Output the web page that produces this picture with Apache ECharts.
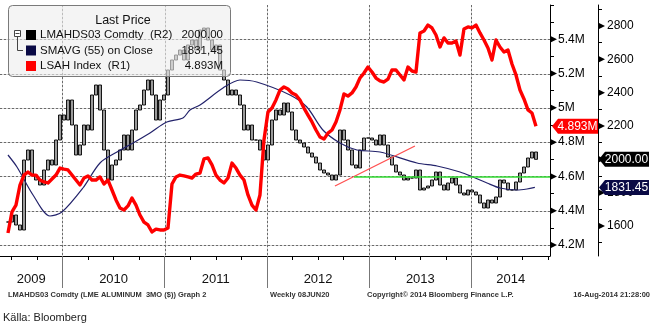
<!DOCTYPE html>
<html><head><meta charset="utf-8">
<script src="https://cdn.jsdelivr.net/npm/echarts@6/dist/echarts.min.js"></script>
<style>html,body{margin:0;padding:0;background:#fff}#c{width:657px;height:327px}</style>
</head><body><div id="c"></div>
<script>
// ---- data ----
const yearLabels = ['2009', '2010', '2011', '2012', '2013', '2014'];
const yearStarts = [2010, 2011, 2012, 2013, 2014];
const priceStart = 2009.467;          // first sample (decimal year)
const priceStep = 0.03912;            // about two weeks
const priceClose = [
  1624,1666,1606,1576,1996,2056,1906,1876,1846,1936,
  1996,1966,2116,2266,2236,2356,2206,2026,2086,2206,
  2176,2386,2446,2296,2056,1876,1966,1996,2056,2146,
  2056,2176,2296,2326,2416,2476,2386,2236,2356,2386,
  2536,2596,2626,2656,2596,2686,2716,2656,2776,2788,
  2716,2656,2686,2536,2476,2386,2416,2386,2326,2176,
  2206,2116,2116,2056,1996,2086,2236,2296,2266,2338,
  2284,2176,2116,2098,2074,2038,2014,1978,1936,1918,
  1906,1876,1906,2176,2116,2056,1966,1948,2056,2128,
  2128,2116,2086,2146,2086,2014,1966,1924,1906,1876,
  1888,1888,1936,1816,1828,1840,1876,1924,1846,1816,
  1858,1888,1846,1798,1786,1816,1804,1786,1738,1708,
  1756,1738,1774,1876,1858,1816,1816,1864,1918,1954,
  2008,2044,2000
];
const lsahValues = [
  4.270,4.393,4.433,4.550,4.608,4.626,4.608,4.608,4.579,4.568,
  4.562,4.585,4.608,4.649,4.643,4.638,4.608,4.579,4.550,4.591,
  4.603,4.579,4.579,4.597,4.556,4.579,4.521,4.463,4.416,4.404,
  4.428,4.474,4.433,4.375,4.334,4.317,4.276,4.293,4.288,4.288,
  4.299,4.556,4.597,4.608,4.603,4.597,4.591,4.614,4.620,4.702,
  4.708,4.667,4.608,4.579,4.562,4.591,4.678,4.649,4.608,4.579,
  4.492,4.433,4.404,4.492,4.813,4.976,4.999,5.046,5.104,5.122,
  5.110,5.087,5.075,5.046,4.999,4.958,4.918,4.871,4.830,4.818,
  4.853,4.871,4.918,4.988,5.081,5.069,5.087,5.122,5.174,5.203,
  5.238,5.209,5.174,5.157,5.151,5.168,5.221,5.221,5.192,5.163,
  5.238,5.215,5.209,5.437,5.448,5.483,5.466,5.425,5.355,5.408,
  5.378,5.378,5.390,5.308,5.460,5.472,5.466,5.483,5.437,5.396,
  5.349,5.279,5.396,5.355,5.326,5.338,5.256,5.192,5.104,5.052,
  4.988,4.970,4.893
];
const smaDates = [2009.467,2009.555,2009.712,2009.878,2009.995,2010.20,2010.367,2010.533,2010.69,2010.856,
  2011.02,2011.178,2011.247,2011.345,2011.57,2011.736,2011.9,2012.225,2012.39,2012.547,2012.714,2012.88,
  2013.105,2013.467,2013.663,2013.888,2014.015,2014.152,2014.279,2014.445,2014.543,2014.62];
const smaValues = [2026,1954,1786,1660,1684,1828,1978,2044,2098,2158,
  2224,2248,2296,2326,2428,2476,2464,2386,2314,2176,2098,2056,
  2044,1978,1960,1924,1894,1858,1828,1816,1822,1831.45];
const trendDates = [2012.665, 2013.447];
const trendValues = [1840, 2080];
const supportDates = [2012.851, 2014.768];
const supportValues = [1894, 1894];
const r1Labels = [4.2, 4.4, 4.6, 4.8, 5.0, 5.2, 5.4];
const r1Minor = [4.3, 4.5, 4.7, 4.9, 5.1, 5.3, 5.5, 5.6];
const r2Labels = [1600, 1800, 2000, 2200, 2400, 2600, 2800];
const r2Minor = [1500, 1700, 1900, 2100, 2300, 2500, 2700, 2900];
const lastPrice = '2000.00', lastSma = '1831.45', lastLsah = '4.893M';
const lastPriceVal = 2000, lastSmaVal = 1831.45, lastLsahVal = 4.893;
const legendRows = [
  ['LMAHDS03 Comdty  (R2)', '2000.00', '#000000'],
  ['SMAVG (55) on Close', '1831,45', '#0a0a45'],
  ['LSAH Index  (R1)', '4.893M', '#ff0000']
];
const footer = ['LMAHDS03 Comdty (LME ALUMINUM  3MO ($)) Graph 2', 'Weekly 08JUN20',
  'Copyright\u00a9 2014 Bloomberg Finance L.P.', '16-Aug-2014 21:28:00'];
const source = 'K\u00e4lla: Bloomberg';

// ---- build ----
const X_MIN = 2009.389, X_MAX = 2014.768;
const Y1_MIN = 4.136, Y1_MAX = 5.6;
const FONT = 'Liberation Sans';
const priceDates = priceClose.map((_, i) => priceStart + i * priceStep);
const candles = priceClose.map((c, i) => {
  const o = i === 0 ? c : priceClose[i - 1];
  return [priceDates[i], o, c, Math.min(o, c), Math.max(o, c)];
});
const lsahData = lsahValues.map((v, i) => [priceDates[i], v]);
const smaData = smaValues.map((v, i) => [smaDates[i], v]);
const quarterTicks = [];
for (let q = 2009.5; q <= X_MAX + 1e-6; q += 0.25) quarterTicks.push(q);
const yearCenters = yearLabels.map(y => {
  const a = Math.max(+y, X_MIN), b = Math.min(+y + 1, X_MAX);
  return (a + b) / 2;
});

const chart = echarts.init(document.getElementById('c'), null, {renderer: 'canvas'});
const option = {
  animation: false,
  backgroundColor: '#fff',
  textStyle: {fontFamily: FONT},
  grid: {left: 0, right: 107, top: 5, bottom: 71},
  xAxis: [{
    type: 'value', min: X_MIN, max: X_MAX, position: 'bottom',
    axisLine: {show: true, lineStyle: {color: '#000', width: 1}},
    axisTick: {show: true, customValues: quarterTicks, length: 4, lineStyle: {color: '#000'}},
    axisLabel: {show: true, customValues: yearCenters, formatter: v => String(Math.floor(v)),
      margin: 17, fontSize: 13, color: '#111', fontFamily: FONT},
    splitLine: {show: false}
  }, {
    type: 'value', min: X_MIN, max: X_MAX, position: 'bottom',
    axisLine: {show: false},
    axisTick: {show: true, customValues: yearStarts, length: 32, lineStyle: {color: '#777'}},
    axisLabel: {show: false}, splitLine: {show: false}
  }],
  yAxis: [{
    type: 'value', position: 'right', offset: 0, min: Y1_MIN, max: Y1_MAX,
    axisLine: {show: true, lineStyle: {color: '#000'}},
    axisTick: {show: true, customValues: r1Minor, length: 4, lineStyle: {color: '#000'}},
    axisLabel: {show: true, customValues: r1Labels, margin: 8, fontSize: 12, color: '#000',
      fontFamily: FONT, formatter: v => (Math.round(v * 10) / 10) + 'M'},
    splitLine: {show: false}
  }, {
    type: 'value', position: 'right', offset: 48, min: 1420, max: 2926,
    axisLine: {show: true, lineStyle: {color: '#000'}},
    axisTick: {show: true, customValues: r2Minor, length: 4, lineStyle: {color: '#000'}},
    axisLabel: {show: true, customValues: r2Labels, margin: 9, fontSize: 12, color: '#000',
      fontFamily: FONT, formatter: v => String(v)},
    splitLine: {show: false}
  }],
  series: [{
    type: 'candlestick', name: 'LMAHDS03', xAxisIndex: 0, yAxisIndex: 1, z: 2,
    data: candles, encode: {x: 0, y: [1, 2, 3, 4]}, barWidth: 2.6,
    itemStyle: {color: '#9a9a9a', color0: '#9a9a9a', borderColor: '#000', borderColor0: '#000', borderWidth: 0.9}
  }, {
    type: 'line', name: 'SMAVG', xAxisIndex: 0, yAxisIndex: 1, z: 3,
    data: smaData, showSymbol: false, smooth: 0.3,
    lineStyle: {color: '#23236b', width: 1.2}
  }, {
    type: 'line', name: 'LSAH', xAxisIndex: 0, yAxisIndex: 0, z: 4,
    data: lsahData, showSymbol: false,
    lineStyle: {color: '#ff0000', width: 3.4, join: 'round'}
  }, {
    type: 'line', name: 'trend', xAxisIndex: 0, yAxisIndex: 1, z: 5,
    data: trendDates.map((d, i) => [d, trendValues[i]]), showSymbol: false,
    lineStyle: {color: '#ff5050', width: 1.3}
  }, {
    type: 'line', name: 'support', xAxisIndex: 0, yAxisIndex: 1, z: 5,
    data: supportDates.map((d, i) => [d, supportValues[i]]), showSymbol: false,
    lineStyle: {color: '#33dd33', width: 1.3}
  }]
};
chart.setOption(option);

// ---- overlay graphics placed via the library scales ----
const gx = chart.convertToPixel({xAxisIndex: 0}, X_MAX);
const gx0 = chart.convertToPixel({xAxisIndex: 0}, X_MIN);
const gyTop = chart.convertToPixel({yAxisIndex: 0}, Y1_MAX);
const gyBot = chart.convertToPixel({yAxisIndex: 0}, Y1_MIN);
const r2x = gx + 48;
const g = [];
const hy = r1Labels.map(v => Math.round(chart.convertToPixel({yAxisIndex: 0}, v)) + 0.5);
const vx = yearStarts.map(v => Math.round(chart.convertToPixel({xAxisIndex: 0}, v)) + 0.5);
hy.forEach(y => {
  g.push({type: 'line', z: 1, silent: true, shape: {x1: gx0, y1: y, x2: gx, y2: y}, style: {stroke: '#d4d4d4', lineWidth: 1}});
  g.push({type: 'line', z: 1, silent: true, shape: {x1: gx0, y1: y, x2: gx, y2: y}, style: {stroke: '#6a6a6a', lineWidth: 1, lineDash: [2, 2]}});
});
vx.forEach(x => {
  g.push({type: 'line', z: 1, silent: true, shape: {x1: x, y1: gyTop, x2: x, y2: gyBot}, style: {stroke: '#d4d4d4', lineWidth: 1}});
  g.push({type: 'line', z: 1, silent: true, shape: {x1: x, y1: gyTop, x2: x, y2: gyBot}, style: {stroke: '#6a6a6a', lineWidth: 1, lineDash: [2, 2]}});
});
r1Labels.forEach(v => {
  const y = chart.convertToPixel({yAxisIndex: 0}, v);
  g.push({type: 'polygon', z: 50, shape: {points: [[gx + 1, y - 3], [gx + 7, y], [gx + 1, y + 3]]}, style: {fill: '#000'}});
});
r2Labels.forEach(v => {
  const y = chart.convertToPixel({yAxisIndex: 1}, v);
  g.push({type: 'polygon', z: 50, shape: {points: [[r2x + 1, y - 3], [r2x + 7, y], [r2x + 1, y + 3]]}, style: {fill: '#000'}});
});
function tag(x0, x1, y, fill, text) {
  g.push({type: 'polygon', z: 60, shape: {points: [[x0, y], [x0 + 6, y - 7.5], [x1, y - 7.5], [x1, y + 7.5], [x0 + 6, y + 7.5]]},
    style: {fill: fill}});
  g.push({type: 'text', z: 61, style: {x: (x0 + 5 + x1) / 2, y: y, text: text, fill: '#fff', font: '12px ' + FONT,
    align: 'center', verticalAlign: 'middle'}});
}
tag(gx + 2, gx + 48, chart.convertToPixel({yAxisIndex: 0}, lastLsahVal), '#ff0000', lastLsah);
tag(r2x + 1, r2x + 51, chart.convertToPixel({yAxisIndex: 1}, lastPriceVal), '#000000', lastPrice);
tag(r2x + 1, r2x + 51, chart.convertToPixel({yAxisIndex: 1}, lastSmaVal), '#0a0a45', lastSma);

// legend box
g.push({type: 'rect', z: 40, shape: {x: 8.5, y: 5.5, width: 222, height: 71, r: 4},
  style: {fill: 'rgba(238,238,238,0.62)', stroke: '#7a7a7a', lineWidth: 1}});
g.push({type: 'text', z: 41, style: {x: 123, y: 21, text: 'Last Price', font: '12.5px ' + FONT, fill: '#111',
  align: 'center', verticalAlign: 'middle'}});
legendRows.forEach((r, i) => {
  const cy = 35 + i * 15.5;
  g.push({type: 'rect', z: 41, shape: {x: 26, y: cy - 5, width: 10, height: 10}, style: {fill: r[2]}});
  g.push({type: 'text', z: 41, style: {x: 40, y: cy, text: r[0], font: '11.5px ' + FONT, fill: '#111', verticalAlign: 'middle'}});
  g.push({type: 'text', z: 41, style: {x: 223, y: cy, text: r[1], font: '11.5px ' + FONT, fill: '#111', align: 'right', verticalAlign: 'middle'}});
});
g.push({type: 'rect', z: 41, shape: {x: 14.5, y: 30.5, width: 6, height: 6}, style: {fill: '#fff', stroke: '#444', lineWidth: 1}});
g.push({type: 'line', z: 41, shape: {x1: 15.5, y1: 33.5, x2: 19.5, y2: 33.5}, style: {stroke: '#444', lineWidth: 1}});
g.push({type: 'polyline', z: 41, shape: {points: [[17.5, 37], [17.5, 50.5], [23, 50.5]]}, style: {stroke: '#444', lineWidth: 1, fill: null}});

// footer
const fx = [8, 270, 367, 650];
const fa = ['left', 'left', 'left', 'right'];
footer.forEach((t, i) => g.push({type: 'text', z: 41, style: {x: fx[i], y: 295, text: t, align: fa[i],
  font: 'bold 7.5px ' + FONT, fill: '#333', verticalAlign: 'middle'}}));
g.push({type: 'text', z: 41, style: {x: 3, y: 318, text: source, font: '11px ' + FONT, fill: '#222', verticalAlign: 'middle'}});

chart.setOption({graphic: g});
</script>
</body></html>
